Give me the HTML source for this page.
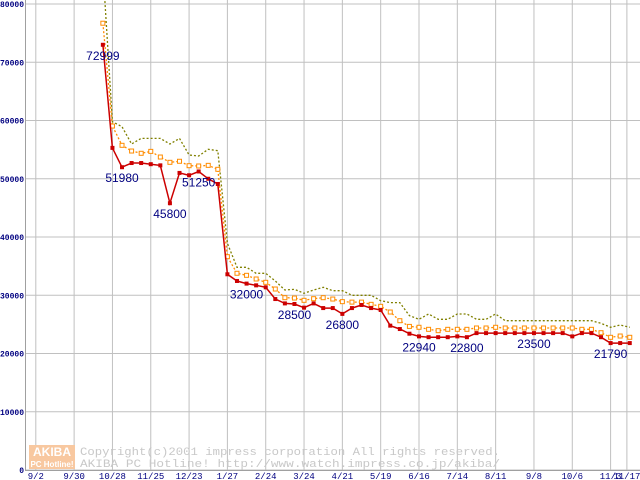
<!DOCTYPE html>
<html><head><meta charset="utf-8"><style>
html,body{margin:0;padding:0;background:#fff;}
svg{display:block;}
.mono{font-family:"Liberation Mono",monospace;}
.sans{font-family:"Liberation Sans",sans-serif;}
</style></head>
<body>
<svg id="chart" width="640" height="480" viewBox="0 0 640 480" xmlns="http://www.w3.org/2000/svg">
<g id="grid"></g>
<g id="watermark">
 <rect x="29" y="445" width="46" height="13" fill="#f8c8a0"/>
 <text class="sans" x="52" y="456" font-size="12" fill="#fff" text-anchor="middle" font-weight="bold">AKIBA</text>
 <rect x="29" y="458" width="46" height="11" fill="#f8c8a0"/>
 <text class="sans" x="52" y="467" font-size="8" fill="#fff" text-anchor="middle" font-weight="bold">PC Hotline!</text>
 <text class="mono" x="80" y="455" font-size="11" fill="#c8c8c8" textLength="420" lengthAdjust="spacingAndGlyphs">Copyright(c)2001 impress corporation All rights reserved.</text>
 <text class="mono" x="80" y="467" font-size="11" fill="#c8c8c8" textLength="420" lengthAdjust="spacingAndGlyphs">AKIBA PC Hotline!  http://www.watch.impress.co.jp/akiba/</text>
</g>
<g id="series"></g>
<g id="labels"></g>
<g id="axes"></g>
</svg>
<script>
var yTicks = [0,10000,20000,30000,40000,50000,60000,70000,80000];
var xTickLabels = ["9/2","9/30","10/28","11/25","12/23","1/27","2/24","3/24","4/21","5/19","6/16","7/14","8/11","9/8","10/6","11/3","11/17"];
var xTickIndex = [0,4,8,12,16,20,24,28,32,36,40,44,48,52,56,60,61.7];
var startIndex = 7;
var redValues = [72999,55300,51980,52700,52700,52500,52300,45800,51000,50600,51250,50000,49100,
 33600,32450,32000,31700,31360,29350,28600,28500,27870,28600,27800,27800,26800,27800,28330,27800,27470,24780,24200,23400,
 22940,22800,22800,22800,22940,22800,23500,23500,23500,23500,23500,23500,23500,23500,23500,23500,22940,23500,23500,22800,21790,21790,21790];
var orangeValues = [76700,59050,55740,54760,54370,54700,53730,52820,53000,52240,52190,52300,51620,
 36620,33770,33420,32790,32220,31070,29580,29520,29130,29410,29580,29350,28900,28820,28820,28440,28100,27120,25630,24650,
 24500,24150,23920,24150,24150,24150,24380,24380,24500,24380,24380,24380,24380,24380,24380,24380,24380,24150,24150,23570,22780,23000,22780];
var oliveValues = [86000,59800,58930,55960,56930,56930,56930,55960,56930,54070,53900,55050,54820,
 38920,34790,34790,33770,33770,32450,30900,31020,30330,30900,31360,30780,30780,29990,29990,29990,29070,28730,28730,26500,
 25870,26780,25870,25870,26780,26780,25870,25870,26780,25630,25630,25630,25630,25630,25630,25630,25630,25630,25630,25180,24500,24890,24500];
var labelIndex = [7,9,14,17,22,27,32,40,45,52,60];

var NS="http://www.w3.org/2000/svg";
function X(i){return 35.8+9.58*i;}
function Y(v){return 470-v*58.25/10000;}
function el(tag,attrs,parent){var e=document.createElementNS(NS,tag);for(var k in attrs)e.setAttribute(k,attrs[k]);parent.appendChild(e);return e;}
var grid=document.getElementById('grid'),axes=document.getElementById('axes'),series=document.getElementById('series'),labels=document.getElementById('labels');

yTicks.forEach(function(v){
 var l=el('line',{x1:25,x2:640,y1:Y(v),y2:Y(v),stroke:'#c0c0c0','stroke-width':1},grid);
 
 
 var s=String(v);
 var t=el('text',{'class':'mono',x:24,y:Y(v)+3,'font-size':8,'font-weight':'bold',fill:'#000080','text-anchor':'end',textLength:s.length*4.8,lengthAdjust:'spacingAndGlyphs'},axes);
 t.textContent=s;
 
 
});
xTickLabels.forEach(function(s,k){
 var x=X(xTickIndex[k]);
 var l=el('line',{x1:x,x2:x,y1:0,y2:470,stroke:'#c0c0c0','stroke-width':1},grid);
 
 
 var t=el('text',{'class':'mono',x:x,y:479,'font-size':9,fill:'#000080','text-anchor':'middle'},axes);
 t.textContent=s;
 
 
});
var ax=el('line',{x1:25.5,x2:25.5,y1:0,y2:470,stroke:'#a0a0a0'},axes);


var bx=el('line',{x1:25,x2:640,y1:470.5,y2:470.5,stroke:'#a0a0a0'},axes);



function pts(vals){return vals.map(function(v,k){return X(startIndex+k).toFixed(1)+','+Y(v).toFixed(1);}).join(' ');}
var clip=el('clipPath',{id:'plotclip'},series);
el('rect',{x:25,y:0,width:615,height:470},clip);

var ol=el('polyline',{points:pts(oliveValues),fill:'none',stroke:'#808000','stroke-width':1.3,'stroke-dasharray':'2,2','clip-path':'url(#plotclip)'},series);



var or=el('polyline',{points:pts(orangeValues),fill:'none',stroke:'#ff8c00','stroke-width':1.3,'stroke-dasharray':'2,2'},series);


orangeValues.forEach(function(v,k){
 var r=el('rect',{x:X(startIndex+k)-2,y:Y(v)-2,width:4,height:4,fill:'#fff',stroke:'#ff8c00','stroke-width':1},series);
 
 
});

var rd=el('polyline',{points:pts(redValues),fill:'none',stroke:'#cc0000','stroke-width':1.5},series);


redValues.forEach(function(v,k){
 var r=el('rect',{x:X(startIndex+k)-2,y:Y(v)-2,width:4,height:4,fill:'#cc0000'},series);
 
 
});

labelIndex.forEach(function(i){
 var v=redValues[i-startIndex];
 var t=el('text',{'class':'sans',x:X(i),y:Y(v)+15,'font-size':12,fill:'#000080','text-anchor':'middle'},labels);
 t.textContent=String(v);
 
 
});
</script>
</body></html>
